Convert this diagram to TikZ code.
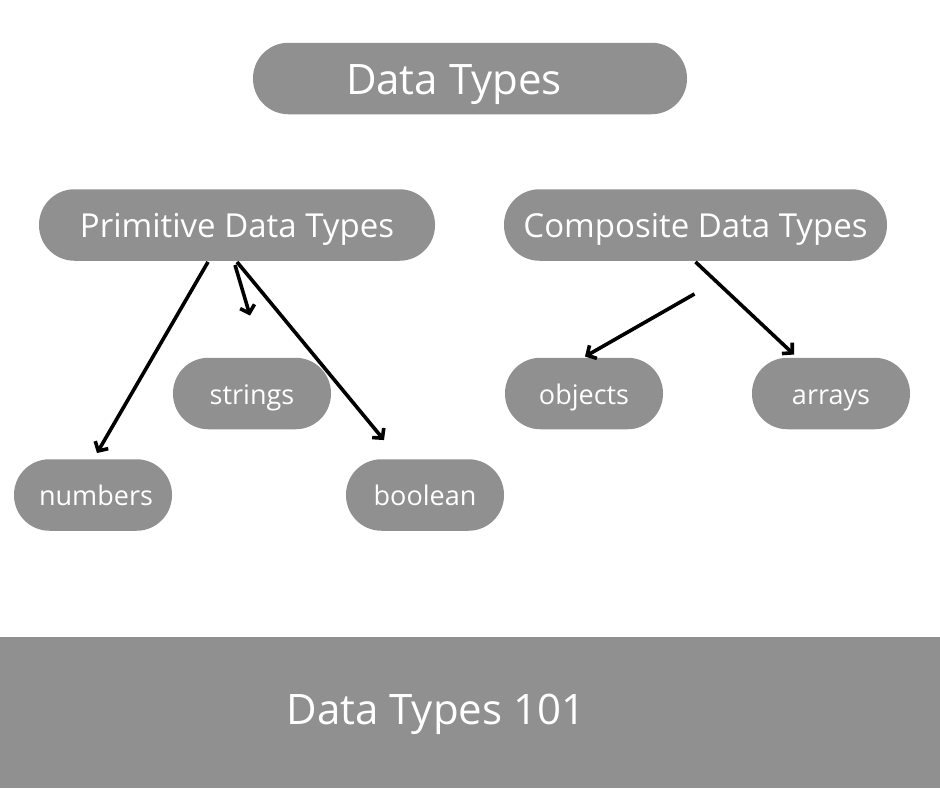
\documentclass[tikz,border=0pt]{standalone}
\usepackage{fontspec}
\setmainfont{Open Sans}
\usetikzlibrary{arrows.meta,calc}
\definecolor{pill}{RGB}{144,144,144}
\tikzset{
  pillbox/.style={fill=pill, rounded corners=35.5pt, minimum height=71.5pt, inner sep=0pt, text=white, text depth=0pt},
  bigpill/.style={pillbox, font=\fontsize{42}{46}\selectfont, text height=32pt},
  midpill/.style={pillbox, font=\fontsize{33}{38}\selectfont, text height=24pt},
  smallpill/.style={pillbox, minimum width=158pt, font=\fontsize{27}{30}\selectfont, text height=21pt},
  conn/.style={line width=3.6pt, -{Straight Barb[length=7pt,width=15pt,line width=3.6pt]}},
}
\begin{document}
\begin{tikzpicture}[x=1pt,y=-1pt]
\useasboundingbox (0,0) rectangle (940,788);
\fill[white] (0,0) rectangle (940,788);
\node[bigpill, minimum width=434pt] (dt) at (470,78.5) {Data Types\rule{32pt}{0pt}};
\node[midpill, minimum width=396pt] (prim) at (237,225) {Primitive Data Types};
\node[midpill, minimum width=383pt] (comp) at (695.5,225) {Composite Data Types};
\node[smallpill] (str) at (252,393.5) {strings};
\node[smallpill] (num) at (93,495) {\hspace{6pt}numbers};
\node[smallpill] (bool) at (425,495) {boolean};
\node[smallpill] (obj) at (584,393.5) {objects};
\node[smallpill] (arr) at (831,393.5) {arrays};
\node[fill=pill, minimum width=940pt, minimum height=151pt, inner sep=0pt, anchor=north west] (banner) at (0,637) {};
\node[text=white, font=\fontsize{42}{46}\selectfont, text height=28pt, text depth=0pt, inner sep=0pt] (bt) at (436,710) {Data Types 101};
% connectors
\draw[conn] ([xshift=-29pt,yshift=-1pt]prim.south) -- ([xshift=4pt,yshift=6pt]num.north);
\draw[conn] ([xshift=-2pt,yshift=-4pt]prim.south) -- ([xshift=-2pt,yshift=42pt]str.north);
\draw[conn] ([xshift=0pt,yshift=-1pt]prim.south) -- ([xshift=-41pt,yshift=19pt]bool.north);
\coordinate (cstart) at ([xshift=-1pt,yshift=-33pt]comp.south);
\draw[conn] (cstart) -- ([xshift=1pt,yshift=1pt]obj.north);
\draw[conn] ([xshift=0pt,yshift=-1pt]comp.south) -- ([xshift=-37pt,yshift=3pt]arr.north);
\end{tikzpicture}
\end{document}
